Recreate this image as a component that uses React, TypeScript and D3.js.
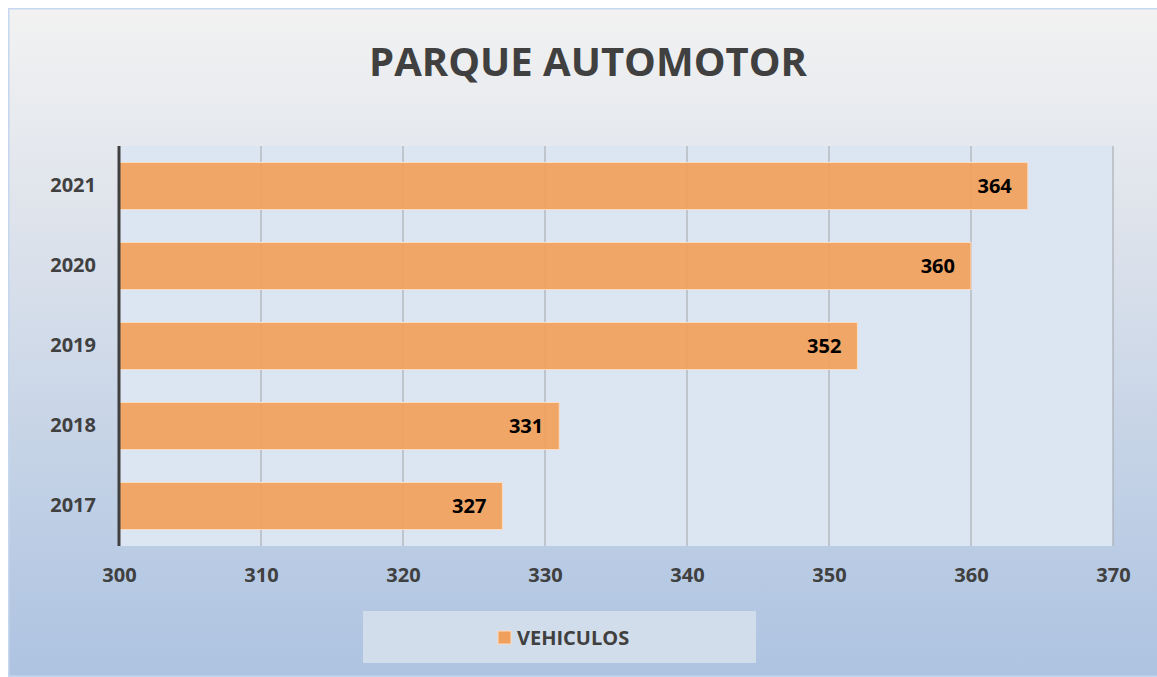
import React, { useEffect, useRef } from 'react'
import * as d3 from 'd3'

const years = ['2021', '2020', '2019', '2018', '2017']
const vehiculos = [364, 360, 352, 331, 327]
const xTicks = [300, 310, 320, 330, 340, 350, 360, 370]
const title = 'PARQUE AUTOMOTOR'
const seriesName = 'VEHICULOS'

const W = 1149
const H = 669
const FONT = '"Open Sans", "Liberation Sans", sans-serif'

function BarChart() {
  const ref = useRef<SVGSVGElement | null>(null)

  useEffect(() => {
    const svg = d3.select(ref.current)
    svg.selectAll('*').remove()

    const plot = { left: 111, right: 1105, top: 138, bottom: 538 }

    const defs = svg.append('defs')
    const grad = defs.append('linearGradient')
      .attr('id', 'bg').attr('x1', 0).attr('y1', 0).attr('x2', 0).attr('y2', 1)
    grad.append('stop').attr('offset', '0%').attr('stop-color', '#f2f2f2')
    grad.append('stop').attr('offset', '30%').attr('stop-color', '#dfe4ec')
    grad.append('stop').attr('offset', '100%').attr('stop-color', '#adc3e1')

    svg.append('rect')
      .attr('x', 0.75).attr('y', 0.75)
      .attr('width', W + 20).attr('height', H - 1.5)
      .attr('fill', 'url(#bg)')
      .attr('stroke', '#c5d7ee').attr('stroke-width', 1.5)

    svg.append('text')
      .attr('x', 580).attr('y', 68)
      .attr('text-anchor', 'middle')
      .attr('font-family', FONT).attr('font-weight', 700).attr('font-size', 40)
      .attr('fill', '#404040')
      .text(title)

    const x = d3.scaleLinear().domain([300, 370]).range([plot.left, plot.right])
    const y = d3.scaleBand().domain(years).range([plot.top, plot.bottom]).paddingInner(0.4125).paddingOuter(0.206)

    svg.append('rect')
      .attr('x', plot.left).attr('y', plot.top)
      .attr('width', plot.right - plot.left).attr('height', plot.bottom - plot.top)
      .attr('fill', '#dce6f2')

    svg.append('g').selectAll('line')
      .data(xTicks.slice(1))
      .enter().append('line')
      .attr('x1', d => x(d)).attr('x2', d => x(d))
      .attr('y1', plot.top).attr('y2', plot.bottom)
      .attr('stroke', '#a0a4a8').attr('stroke-width', 1)

    svg.append('g').selectAll('rect')
      .data(vehiculos)
      .enter().append('rect')
      .attr('x', x(300))
      .attr('y', (d, i) => y(years[i])!)
      .attr('width', d => x(d) - x(300))
      .attr('height', y.bandwidth())
      .attr('fill', '#f0a05c').attr('fill-opacity', 0.93)
      .attr('stroke', '#fbdcc2').attr('stroke-width', 1)

    svg.append('g').selectAll('text')
      .data(vehiculos)
      .enter().append('text')
      .attr('x', d => x(d) - 16)
      .attr('y', (d, i) => y(years[i])! + y.bandwidth() / 2)
      .attr('dy', '0.35em')
      .attr('text-anchor', 'end')
      .attr('font-family', FONT).attr('font-weight', 700).attr('font-size', 20)
      .attr('fill', '#000')
      .text(d => d)

    const xAxis = d3.axisBottom(x).tickValues(xTicks).tickSize(0).tickPadding(22)
    const gx = svg.append('g')
      .attr('transform', `translate(0, ${plot.bottom})`)
      .call(xAxis)
    gx.select('.domain').remove()
    gx.selectAll('text')
      .attr('font-family', FONT).attr('font-weight', 700).attr('font-size', 20)
      .attr('fill', '#404040')

    const yAxis = d3.axisLeft(y).tickSize(0).tickPadding(23)
    const gy = svg.append('g')
      .attr('transform', `translate(${plot.left}, 0)`)
      .call(yAxis)
    gy.select('.domain').attr('stroke', '#404040').attr('stroke-width', 3)
      .attr('d', `M0,${plot.top}V${plot.bottom}`)
    gy.selectAll('text')
      .attr('font-family', FONT).attr('font-weight', 700).attr('font-size', 20)
      .attr('fill', '#404040')

    const legend = svg.append('g')
    legend.append('rect')
      .attr('x', 355).attr('y', 603).attr('width', 393).attr('height', 52)
      .attr('fill', '#d2ddeb')
    legend.append('rect')
      .attr('x', 490).attr('y', 623).attr('width', 13).attr('height', 13)
      .attr('fill', '#f0a05c').attr('stroke', '#fbdcc2')
    legend.append('text')
      .attr('x', 509).attr('y', 630)
      .attr('dy', '0.35em')
      .attr('font-family', FONT).attr('font-weight', 700).attr('font-size', 20)
      .attr('fill', '#404040')
      .text(seriesName)
  }, [])

  return <svg ref={ref} width={W} height={H} style={{ position: 'absolute', left: 8, top: 8, display: 'block' }} />
}

export default function App() {
  return <BarChart />
}
